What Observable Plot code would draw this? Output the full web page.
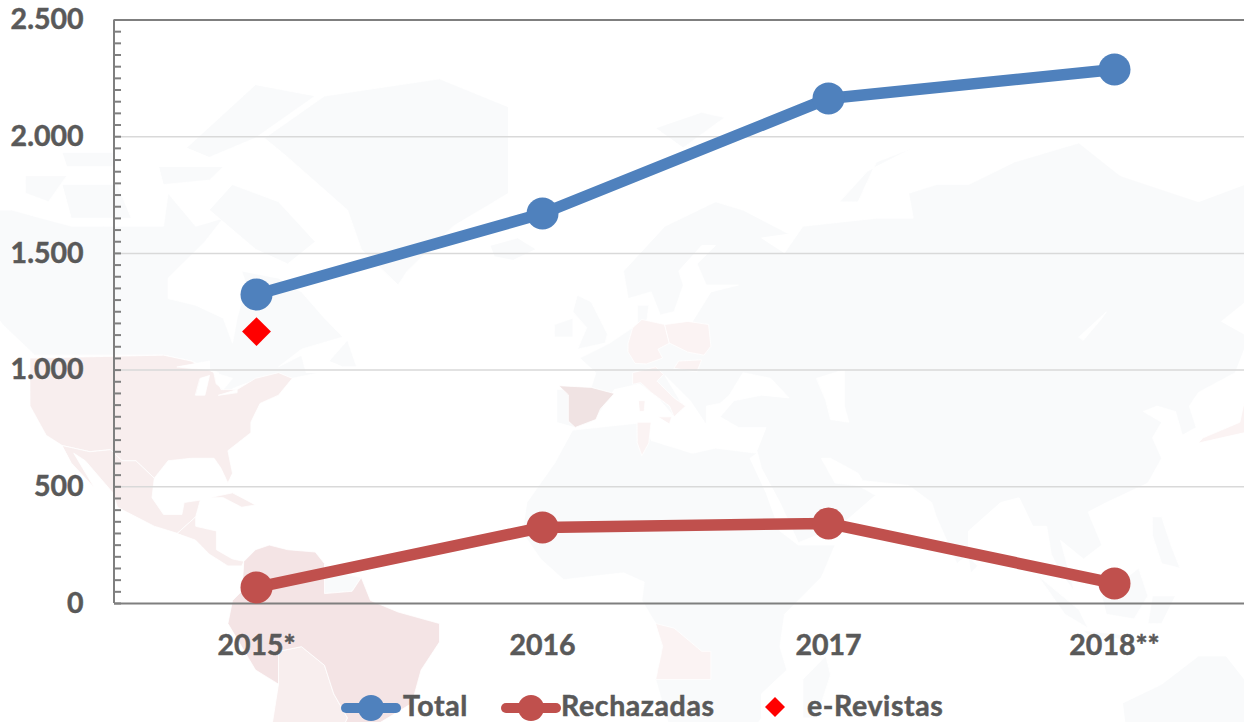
<!DOCTYPE html>
<html><head><meta charset="utf-8">
<style>html,body{margin:0;padding:0;background:#fff;overflow:hidden}
#root{position:relative;width:1244px;height:722px;overflow:hidden;font-family:Lato,sans-serif;font-weight:700}
#root>svg{position:absolute;left:0;top:0;background:transparent}
#chart text{paint-order:stroke;stroke:#595959;stroke-width:.5px}
.lg{position:absolute;top:687.5px;font-size:28.5px;letter-spacing:.6px;color:#595959;line-height:34px;white-space:nowrap;-webkit-text-stroke:.5px #595959}
</style>
<script src="https://cdn.jsdelivr.net/npm/d3@7"></script>
<script src="https://cdn.jsdelivr.net/npm/@observablehq/plot@0.6"></script>
</head><body><div id="root"></div>
<script>
const years = ["2015*","2016","2017","2018**"];
const total = [1324,1671,2164,2288];
const rechazadas = [69,326,343,86];
const eRevistas = [1165,null,null,null];
const yTicks = [0,500,1000,1500,2000,2500];
const minorTicks = d3.range(0,2501,50);
const legendNames = ["Total","Rechazadas","e-Revistas"];
const fmt = d => d===0 ? "0" : d3.format(",")(d).replace(",",".");
const rows = n => years.map((y,i)=>({year:y,value:n[i]})).filter(d=>d.value!=null);

// Background world map: rough land outlines in [lon, lat]
const pale="#f9fafb", pink="#f8eeee", rose="#f4e4e5", spainTone="#f0e3e3", light="#fbf3f3", sea="#ffffff";
const landPale = {
 northAmerica:[[-168,66],[-162,70],[-156,71],[-141,70],[-128,70],[-115,68],[-108,68],[-95,68],[-94,72],[-88,68],[-82,69],[-86,66],[-94,61],[-94,58],[-88,57],[-82,55],[-80,51],[-79,55],[-77,60],[-78,62],[-70,61],[-65,59],[-60,55],[-56,52],[-65,50],[-70,47],[-65,49],[-64,46],[-61,46],[-67,45],[-70,45.5],[-74,45],[-79,43.5],[-83,42],[-83,46],[-89,48],[-95,49],[-123,49],[-130,54],[-135,59],[-145,60],[-152,59],[-160,55],[-165,54],[-158,58],[-165,60],[-165,64]],
 greenland:[[-73,78],[-60,82],[-35,83.5],[-20,81],[-20,72],[-32,68],[-42,62],[-44,60],[-52,65],[-55,70],[-68,76]],
 baffin:[[-80,73],[-70,71],[-62,66],[-68,63],[-75,65],[-85,70]],
 victoria:[[-117,73],[-105,73],[-102,69],[-115,69]],
 ellesmere:[[-90,77],[-75,83],[-62,82],[-75,78],[-85,76]],
 banks:[[-125,74],[-116,74],[-120,71],[-125,72]],
 devon:[[-96,75],[-82,75],[-85,73.5],[-95,73]],
 melville:[[-117,76.5],[-106,76.5],[-106,75],[-116,75]],
 newfoundland:[[-59,48],[-55,51.5],[-53,47],[-56,47]],
 iceland:[[-24,65.5],[-18,66.5],[-14,65],[-19,63.5],[-23,64]],
 britain:[[-5,58.5],[-2,57.5],[1.5,52.5],[1,51],[-5,50],[-3,53.5],[-6,56]],
 ireland:[[-10,54],[-6,55],[-6,52],[-10,52]],
 svalbard:[[12,79],[22,80.5],[27,80],[18,77]],
 novayaZemlya:[[52,71],[58,74.5],[68,77],[60,75.5],[56,71]],
 eurasia:[[-9.5,37],[-9.5,43],[-2,43.5],[-1,46],[-4.5,48.5],[2,51],[8,54],[8,57],[10.5,57],[10,54],[14,54],[20,54.5],[24,59],[30,60],[23,60],[21,63],[25,65.5],[22,65.5],[17,62],[18,60],[16,56],[13,55.5],[11,59],[6,58],[5,62],[14,68],[25,71],[31,70],[41,67],[35,66.5],[40,64.5],[44,68],[60,69],[68,69],[67,72],[73,73],[80,73],[90,75.5],[104,77.5],[113,74],[130,71],[140,73],[160,70],[170,69.5],[180,68.5],[180,65],[178,62.5],[170,60],[163,58],[162,55],[156,51],[156,57],[163,62],[155,59],[143,59],[135,54.5],[141,52],[138,46],[130,42.5],[128,40],[129.5,36],[126.5,34.5],[125,39],[121,40],[118,39],[122,37],[120,34],[122,30],[119,25],[110,21],[106,19],[109,12],[105,9],[100,13],[103,2],[100,6],[98,10],[97,16],[94,16],[91,22],[87,21],[80,15],[80,10],[77.5,8],[73,18],[72,21],[67,24.5],[57,25.5],[56,27],[50,30],[48,30],[51,25],[56,24.5],[59.8,22.5],[52,16],[43,12.5],[39,21],[35,28],[34,31.5],[36,36],[30,36],[26,38],[29,41],[35,42],[41,41.5],[37,45],[31,46],[28,42],[26,40.5],[23,40],[23,36.5],[19.5,41],[14,45.5],[18,40],[16,38],[12,42],[8.5,44],[3,43],[0,39],[-2,37],[-5.5,36]],
 africa:[[-6,35.5],[10,37],[11,33.5],[20,31],[25,32],[34,31],[32.5,30],[36,23],[39,15],[43,12],[51,12],[48,5],[40,-3],[39,-10],[40.5,-15],[35,-20],[35,-25],[32,-29],[26,-34],[19,-34.5],[15,-27],[12,-17],[13.5,-10],[12,-5],[9,0],[9.5,4],[5,6],[-4,5],[-8,4.5],[-13,9],[-17,14.7],[-16,21],[-10,29]],
 madagascar:[[49,-12],[50,-16],[47,-25],[44,-25],[44,-17]],
 sriLanka:[[80,9.5],[82,7.5],[80.5,6]],
 sumatra:[[95,5.5],[104,-2],[106,-6],[101,-3]],
 java:[[105,-6.5],[114,-7.5],[114,-8.5],[106,-7.5]],
 borneo:[[109,1],[117,7],[119,1],[116,-4],[110,-3]],
 sulawesi:[[119,-5],[120,1],[125,1],[122,-5]],
 philippines:[[120,18],[122,18],[124,12],[126,7],[122,8],[120,14]],
 australia:[[113.5,-22],[114,-26],[116,-34],[125,-33],[135,-35],[150,-38],[153,-28],[145,-15],[142,-11],[140,-17],[136,-12],[130,-12],[122,-18]],
 guianas:[[-60,8],[-57,6],[-52,5],[-54,2],[-60,1.5]]
};
const landPink = {
 usa:[[-124,48.5],[-95,49],[-89,48],[-84,46],[-82.5,43],[-79,43],[-75,45],[-70,46],[-67,45],[-70,42],[-74,40.5],[-76,37],[-76,35],[-81,31.5],[-80,27],[-81,25],[-82.5,28],[-84,30],[-89,30],[-94,29.5],[-97,26],[-101,29.5],[-104,29.5],[-106.5,31.7],[-111,31.3],[-117,32.5],[-120.5,34.5],[-124,40]],
 mexico:[[-117,32.5],[-111,31.3],[-106.5,31.7],[-104,29.5],[-101,29.5],[-97,26],[-97.5,22],[-95,18.5],[-91,18.5],[-90.5,21],[-87,21.5],[-88,18],[-92,14.5],[-97,16],[-105,20],[-106,23],[-112,29.5],[-114.5,31],[-110,24],[-115,29]],
 centralAmerica:[[-92,14.5],[-88,18],[-88,16],[-83.5,15],[-83.5,11],[-80,9],[-77.5,8.5],[-78,7.5],[-81,7.5],[-85,10],[-88,13]],
 cuba:[[-85,22],[-80,23],[-75,20.5],[-78,20],[-82,22]],
 southernCone:[[-70,-11],[-65,-10],[-60,-14],[-58,-20],[-55,-25],[-57.5,-30],[-53,-33.5],[-57,-36],[-57,-38.5],[-62,-39],[-65,-45],[-68,-52],[-72,-53],[-74,-45],[-72,-30],[-70,-18]]
};
const landRose = {
 andesBrazil:[[-77.5,8.5],[-75,11],[-72,12],[-68,11],[-62,10.5],[-60,8],[-60,1.5],[-54,2],[-52,5],[-50,0],[-44,-2.5],[-35,-5],[-35,-9],[-39,-15],[-41,-22],[-48,-26],[-53,-33.5],[-57.5,-30],[-55,-25],[-58,-20],[-60,-14],[-65,-10],[-70,-11],[-70,-18],[-75,-15],[-81,-5],[-80,0],[-78,2]]
};
const landLight = {
 germany:[[6,51],[7,53.5],[9,54.8],[14,54],[15,51],[12.5,50],[13.5,48.5],[10,47.5],[7.5,47.6],[6,49.5]],
 poland:[[14,54],[19,54.5],[23.5,54],[24,50.5],[22.5,49],[19,49.5],[15,51]],
 hungary:[[16,46.8],[17,48],[22,48.2],[21,46.2]],
 italy:[[7,44],[7,46],[12,47],[13.7,45.7],[12.3,44.5],[16,41.5],[18.5,40],[16,38],[15,40],[11,42.5],[8.8,44.2]],
 sicily:[[12.5,38],[15.5,38],[15,36.7]],
 sardinia:[[8.3,41],[9.7,41],[9.5,39],[8.5,39]],
 tunisia:[[8,37],[11,37],[10.5,33],[9,30.5],[8,33]],
 angola:[[12,-5],[16,-6],[22,-11],[24,-11],[24,-17],[12,-17],[13.5,-10]],
 japan:[[130,33],[135,34],[140,35],[141.5,39],[140,41],[139,37],[135,35.5],[131,34]],
 hokkaido:[[140,42],[145,43.5],[142,45.5]]
};
const landSpain = {spain:[[-9,43.7],[-2,43.4],[3,42.3],[0,39.5],[-1,37.5],[-5.5,36],[-7,37.2],[-7,42]]};
const seas = {
 caspian:[[47,45],[53,46.5],[53,40],[54,37],[50,37.5],[49,41]],
 baikal:[[104,52],[110,56],[109,55],[105,51.5]],
 superior:[[-92,47],[-85,48],[-85,46.5],[-90,46.8]],
 michigan:[[-88,42],[-86,42],[-85,45.5],[-87,45]],
 huron:[[-84,46],[-80,45],[-82,43],[-83.5,44]],
 erie:[[-83,42],[-79,43],[-79,42.5]]
};
const miller = lat => { const p=lat*Math.PI/180; return 1.25*Math.log(Math.tan(Math.PI/4+0.4*p))*180/Math.PI; };
const toPoints = (group,tone) => Object.entries(group).flatMap(([name,pts]) =>
  pts.map(([lon,lat])=>({name,tone,lon,my:miller(lat)})));
const mapPoints = [
  ...toPoints(landPale,pale),...toPoints(landPink,pink),...toPoints(landRose,rose),
  ...toPoints(landLight,light),...toPoints(landSpain,spainTone),...toPoints(seas,sea)];
const map = Plot.plot({
  width:1244,height:722,margin:0,axis:null,
  style:{background:"transparent",overflow:"hidden"},
  x:{domain:[-600/4.6,644/4.6],range:[0,1244]},
  y:{domain:[-122/4.6,600/4.6],range:[722,0]},
  marks:[Plot.line(mapPoints,{x:"lon",y:"my",z:"name",fill:"tone",stroke:"#ffffff",strokeWidth:0.8,curve:"linear-closed"})]
});

const W=1244,H=722;
const chart = Plot.plot({
  width:W,height:H,marginLeft:114,marginRight:0,marginTop:19.5,marginBottom:119,
  style:{background:"transparent",fontFamily:"Lato,sans-serif",overflow:"hidden"},
  x:{type:"point",domain:years,range:[255.5,1113.5],padding:0,label:null},
  y:{domain:[0,2500],label:null},
  marks:[
    Plot.ruleY(yTicks.filter(d=>d>0&&d<2500),{stroke:"#d9d9d9",strokeWidth:1.5}),
    Plot.tickY(minorTicks,{y:d=>d,stroke:"#7f7f7f",strokeWidth:2,insetRight:W-114-7}),
    Plot.ruleY([0,2500],{stroke:"#7f7f7f",strokeWidth:2}),
    Plot.ruleX([years[0]],{x:d=>d,dx:-142.5,stroke:"#7f7f7f",strokeWidth:2}),
    Plot.axisY(yTicks,{anchor:"left",tickSize:0,tickPadding:0,dx:-31,tickFormat:fmt,fontSize:28.5,fontWeight:700,fill:"#595959",label:null}),
    Plot.axisX(years,{anchor:"bottom",tickSize:0,tickPadding:31,fontSize:28.5,fontWeight:700,fill:"#595959",label:null}),
    Plot.line(rows(total),{x:"year",y:"value",stroke:"#4f81bd",strokeWidth:11.5}),
    Plot.dot(rows(total),{x:"year",y:"value",r:16,fill:"#4f81bd"}),
    Plot.line(rows(rechazadas),{x:"year",y:"value",stroke:"#c0504d",strokeWidth:11.5}),
    Plot.dot(rows(rechazadas),{x:"year",y:"value",r:16,fill:"#c0504d"}),
    Plot.dot(rows(eRevistas),{x:"year",y:"value",symbol:"diamond2",r:13,fill:"#ff0000"})
  ]
});
chart.id="chart";
const root=document.getElementById("root");
root.append(map,chart);

// Legend below the plot
const svgNS="http://www.w3.org/2000/svg";
function swatch(x,color,kind){
  const s=document.createElementNS(svgNS,"svg");
  s.setAttribute("width",70);s.setAttribute("height",34);
  s.style.cssText=`position:absolute;left:${x}px;top:688px`;
  if(kind==="line"){
    s.innerHTML=`<line x1="6" x2="56" y1="20" y2="20" stroke="${color}" stroke-width="10" stroke-linecap="round"/><circle cx="31" cy="20" r="13" fill="${color}"/>`;
  } else {
    s.innerHTML=`<path d="M35 9 L45 19 L35 29 L25 19 Z" fill="${color}"/>`;
  }
  root.appendChild(s);
}
swatch(340,"#4f81bd","line");
swatch(499.5,"#c0504d","line");
swatch(740,"#ff0000","diamond");
[[403,0],[561,1],[807,2]].forEach(([x,i])=>{
  const t=document.createElement("div");t.className="lg";t.style.left=x+"px";t.textContent=legendNames[i];root.appendChild(t);
});
</script></body></html>
